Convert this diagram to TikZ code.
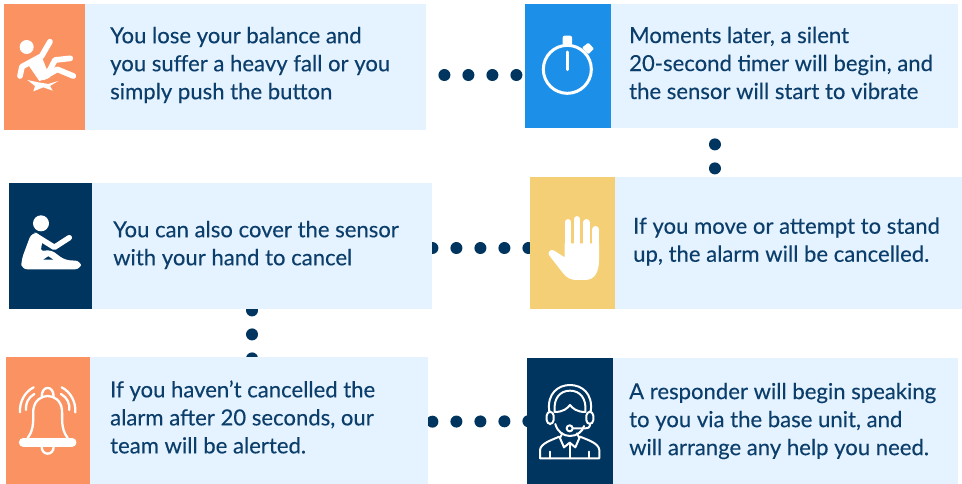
\documentclass[tikz,border=0pt]{standalone}
\usepackage{fontspec}
\setmainfont{Lato}[FakeBold=0.25]
\usetikzlibrary{backgrounds}
\definecolor{inkblue}{RGB}{11,62,107}
\definecolor{navy}{RGB}{0,53,96}
\definecolor{paleblue}{RGB}{229,242,255}
\definecolor{coral}{RGB}{251,146,98}
\definecolor{skyblue}{RGB}{28,143,232}
\definecolor{sand}{RGB}{245,207,118}
\tikzstyle{card} = [rectangle, anchor=north west, fill=paleblue, inner sep=0pt]
\tikzstyle{iconbox} = [rectangle, anchor=north west, inner sep=0pt]
\tikzstyle{message} = [anchor=west, align=left, inner sep=0pt, text=inkblue, font=\fontsize{22.1}{28}\selectfont]
\tikzstyle{dotline} = [navy, line width=12pt, line cap=round, dash pattern=on 0.01pt off 23.99pt]
\tikzstyle{thinline} = [white, line width=2.3pt, line cap=round, line join=round]

\begin{document}
\begin{tikzpicture}
	[x=1pt, y=-1pt]
	\useasboundingbox (0,0) rectangle (962,484);

	\node (fallcard) [card, minimum width=341pt, minimum height=126pt] at (85,4) {};
	\node (fallicon) [iconbox, fill=coral, minimum width=81pt, minimum height=126pt] at (4,4) {};
	\node (timercard) [card, minimum width=347pt, minimum height=124pt] at (611,4) {};
	\node (timericon) [iconbox, fill=skyblue, minimum width=86pt, minimum height=124pt] at (525,4) {};
	\node (covercard) [card, minimum width=340pt, minimum height=126pt] at (92,183) {};
	\node (covericon) [iconbox, fill=navy, minimum width=83pt, minimum height=126pt] at (9,183) {};
	\node (movecard) [card, minimum width=347pt, minimum height=132pt] at (615,177) {};
	\node (moveicon) [iconbox, fill=sand, minimum width=85pt, minimum height=132pt] at (530,177) {};
	\node (alertcard) [card, minimum width=338pt, minimum height=127pt] at (90,357) {};
	\node (alerticon) [iconbox, fill=coral, minimum width=84pt, minimum height=127pt] at (6,357) {};
	\node (speakcard) [card, minimum width=345pt, minimum height=126pt] at (613,358) {};
	\node (speakicon) [iconbox, fill=navy, minimum width=86pt, minimum height=126pt] at (527,358) {};

	\node (falltext) [message] at (110,65) {You lose your balance and\\you suffer a heavy fall or you\\simply push the button};
	\node (timertext) [message] at (629,63) {Moments later, a silent\\20-second timer will begin, and\\the sensor will start to vibrate};
	\node (covertext) [message] at (113,245) {You can also cover the sensor\\with your hand to cancel};
	\node (movetext) [message] at (633,241.5) {If you move or attempt to stand\\up, the alarm will be cancelled.};
	\node (alerttext) [message] at (110,417) {If you haven’t cancelled the\\alarm after 20 seconds, our\\team will be alerted.};
	\node (speaktext) [message] at (629,421) {A responder will begin speaking\\to you via the base unit, and\\will arrange any help you need.};

	\begin{scope}[on background layer]
		\draw [dotline, dash phase=6pt] ([yshift=-8pt]fallcard.east) -- ([yshift=-9pt]timericon.west);
		\draw [dotline, dash phase=8pt] ([xshift=-70pt]timercard.south) -- ([xshift=-74pt]movecard.north);
		\draw [dotline] ([yshift=-2pt]covercard.east) -- ([yshift=-5pt]moveicon.west);
		\draw [dotline, dash phase=23pt] ([xshift=-10pt]covercard.south) -- ([xshift=-7pt, yshift=-3pt]alertcard.north);
		\draw [dotline, dash phase=20pt] ([yshift=-1pt]alertcard.east) -- ([xshift=3pt]speakicon.west);
	\end{scope}

	% fall
	\begin{scope}[scale=1/3]
		\fill [white] (80,141) circle (21);
		\draw [white, line width=5.7pt, line cap=round, line join=round] (60,228) -- (66,200) -- (125,168) -- (150,125);
		\fill [white] (85,195) -- (125,170) -- (150,232) -- (118,243) -- cycle;
		\draw [white, line width=5.7pt, line cap=round, line join=round] (140,228) -- (165,180) -- (211,175);
		\draw [white, line width=5.7pt, line cap=round, line join=round] (130,232) -- (172,208) -- (220,228);
		\fill [white] (82,240) -- (115,247) -- (145,252) -- (175,243) -- (150,258) -- (158,272) -- (130,262) -- (100,274) -- (105,258) -- cycle;
	\end{scope}

	% stopwatch
	\begin{scope}[shift={(520,0)}, scale=1/3]
		\draw [white, line width=3pt] (142,208) circle (72);
		\fill [white, rounded corners=2pt] (128,107) rectangle (156,136);
		\fill [white, rounded corners=1pt] (186,143) -- (205,128) -- (222,146) -- (205,163) -- cycle;
		\draw [white, line width=3pt, line cap=round] (142,156) -- (142,209);
	\end{scope}

	% sitting
	\begin{scope}[shift={(0,175)}, scale=1/3]
		\fill [white] (123,145) circle (24);
		\fill [white, rounded corners=6pt] (95,172) -- (120,175) -- (130,200) -- (118,232) -- (150,222) -- (195,256) -- (243,257) -- (243,283) -- (64,283) -- (64,255) -- cycle;
		\draw [white, line width=5.5pt, line cap=round, line join=round] (108,183) -- (163,217) -- (208,188);
		\fill [navy] (130,254) -- (160,254) -- (145,244) -- cycle;
	\end{scope}

	% hand
	\begin{scope}[shift={(520,170)}, scale=1/3]
		\fill [white] (134,262) -- (101,241) .. controls (90,236) and (80,250) .. (89,258) -- (128,308) .. controls (140,325) and (155,330) .. (170,330) -- (195,330) .. controls (225,330) and (237,305) .. (237,270) -- (237,220) -- (134,220) -- cycle;
		\draw [white, line width=6.6pt, line cap=round] (144,157) -- (144,225);
		\draw [white, line width=6.6pt, line cap=round] (171,148) -- (171,225);
		\draw [white, line width=6.6pt, line cap=round] (199,157) -- (199,225);
		\draw [white, line width=6.6pt, line cap=round] (227,178) -- (227,225);
	\end{scope}

	% bell
	\begin{scope}[shift={(0,350)}, scale=1/3]
		\draw [thinline] (83,264) .. controls (105,235) and (98,205) .. (100,180) .. controls (103,150) and (125,138) .. (143,138) .. controls (161,138) and (183,150) .. (186,180) .. controls (188,205) and (181,235) .. (203,264);
		\draw [thinline] (125,140) .. controls (125,105) and (161,105) .. (161,140);
		\draw [white, line width=9pt, line cap=round] (70,277) -- (216,277);
		\draw [thinline] (125,290) .. controls (125,318) and (161,318) .. (161,290);
		\draw [thinline] (60,187) .. controls (58,155) and (75,125) .. (101,112);
		\draw [thinline] (78,180) .. controls (76,160) and (85,142) .. (103,132);
		\draw [thinline] (226,187) .. controls (228,155) and (211,125) .. (185,112);
		\draw [thinline] (208,180) .. controls (210,160) and (201,142) .. (183,132);
	\end{scope}

	% headset
	\begin{scope}[shift={(520,350)}, scale=1/3]
		\draw [thinline, line width=2pt] (88,185) .. controls (80,130) and (115,105) .. (150,105) .. controls (185,105) and (220,130) .. (212,185);
		\draw [thinline, line width=2pt] (104,185) .. controls (100,145) and (120,122) .. (150,122) .. controls (180,122) and (200,145) .. (196,185);
		\draw [thinline, line width=2pt, rounded corners=4pt] (80,185) rectangle (101,222);
		\draw [thinline, line width=2pt, rounded corners=4pt] (199,185) rectangle (220,222);
		\draw [thinline, line width=2pt] (104,186) .. controls (130,186) and (142,175) .. (150,165) .. controls (158,175) and (170,186) .. (196,186);
		\draw [thinline, line width=2pt] (106,222) .. controls (112,245) and (130,258) .. (150,258) .. controls (170,258) and (188,245) .. (192,228);
		\draw [thinline, line width=2pt] (210,222) .. controls (210,232) and (205,235) .. (195,235) -- (160,235);
		\draw [thinline, line width=2pt, fill=navy] (149,235) circle (9);
		\draw [thinline, line width=2pt] (60,325) -- (60,300) .. controls (62,280) and (95,270) .. (118,260) -- (132,292) -- (149,278) -- (166,292) -- (180,260) .. controls (205,270) and (236,280) .. (238,300) -- (238,325) -- cycle;
		\draw [thinline, line width=2pt] (149,278) -- (149,325);
		\draw [thinline, line width=2pt] (127,250) -- (120,264) (171,250) -- (178,264);
		\draw [thinline, line width=2pt] (90,305) -- (90,325) (207,305) -- (207,325);
	\end{scope}
\end{tikzpicture}
\end{document}
